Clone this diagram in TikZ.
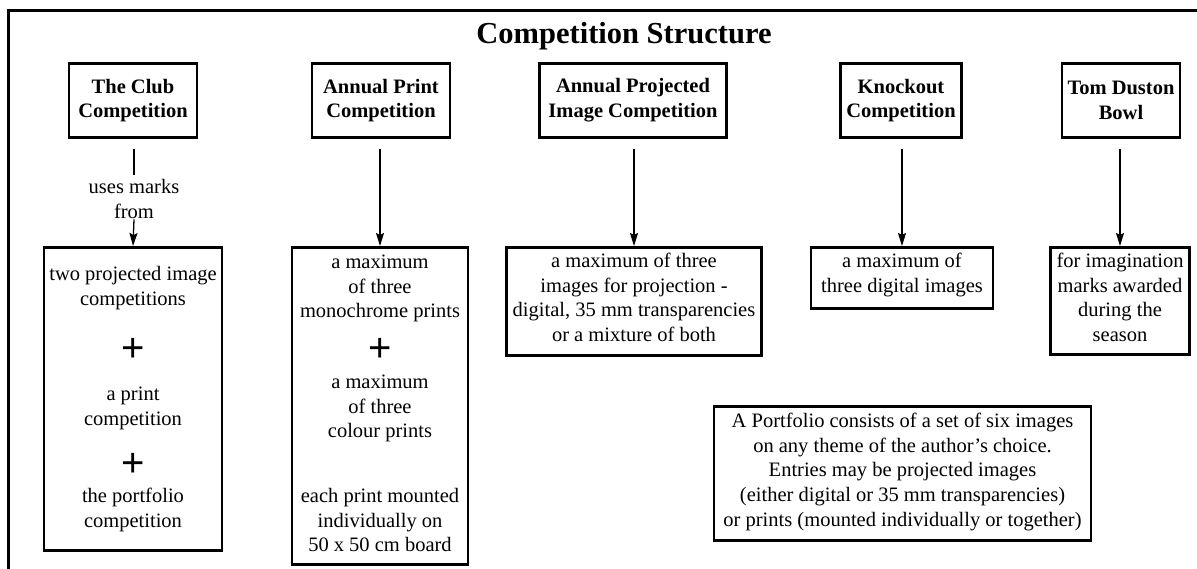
\documentclass[tikz,border=0pt]{standalone}
\usepackage{fontspec}
\setmainfont{Liberation Serif}
\newfontfamily\plusfont{Liberation Sans}
\usetikzlibrary{arrows.meta}
\newcommand\bodyfs{\fontsize{20.5}{24.8}\selectfont}
\newcommand\fl{\rule{0pt}{17.36pt}}
\begin{document}
\begin{tikzpicture}[x=1pt,y=-1pt,
  frame/.style={line width=2.8pt},
  box/.style={draw, line width=2.8pt, inner sep=0pt},
  headbox/.style={box, font=\bodyfs\bfseries, align=center, minimum height=74pt},
  lowbox/.style={box, anchor=north},
  txt/.style={font=\bodyfs, align=center, inner sep=0pt, anchor=north},
  plussign/.style={font=\plusfont\fontsize{40}{40}\selectfont, inner sep=0pt, anchor=base},
  link/.style={line width=1.3pt},
  arr/.style={link, -{Stealth[length=13pt,width=8pt,inset=2pt]}}
]
\useasboundingbox (0,0) rectangle (1197,568);
\clip (0,0) rectangle (1197,568);
\draw[frame] (1205,10.8) -- (8.5,10.8) -- (8.5,580);

% title
\node[font=\fontsize{30.5}{36}\selectfont\bfseries, inner sep=0pt, anchor=base] (title) at (624,43) {Competition Structure};

% header boxes
\node[headbox, minimum width=128pt] (h1) at (133,100.5) {The Club\\Competition};
\node[headbox, minimum width=138pt] (h2) at (381,100.5) {Annual Print\\Competition};
\node[headbox, minimum width=187pt] (h3) at (633,100.5) {Annual Projected\\Image Competition};
\node[headbox, minimum width=121pt] (h4) at (901,100.5) {Knockout\\Competition};
\node[headbox, minimum width=118pt] (h5) at (1121,100.5) {Tom Duston\\Bowl};

% lower boxes
\node[lowbox, minimum width=178pt, minimum height=303pt] (l1) at (133,246) {};
\node[lowbox, minimum width=176pt, minimum height=317pt] (l2) at (380,246) {};
\node[lowbox, minimum width=255pt, minimum height=108pt] (l3) at (634,246) {};
\node[lowbox, minimum width=182pt, minimum height=61pt] (l4) at (902,246) {};
\node[lowbox, minimum width=139pt, minimum height=107pt] (l5) at (1120,246) {};
\node[lowbox, minimum width=377pt, minimum height=134pt] (pf) at (902.5,405) {};

% box texts (north = first baseline minus 17.36pt)
\node[txt] (t1a) at (133,280-17.36) {\fl two projected image\\competitions};
\node[plussign] (p1a) at (133,347+14.3) {+};
\node[txt] (t1b) at (133,400-17.36) {\fl a print\\competition};
\node[plussign] (p1b) at (133,462+14.3) {+};
\node[txt] (t1c) at (133,502-17.36) {\fl the portfolio\\competition};

\node[txt] (t2a) at (380,268-17.36) {\fl a maximum\\of three\\monochrome prints};
\node[plussign] (p2a) at (380,347+14.3) {+};
\node[txt] (t2b) at (380,388-17.36) {\fl a maximum\\of three\\colour prints};
\node[txt] (t2c) at (380,502-17.36) {\fl each print mounted\\individually on\\50 x 50 cm board};

\node[txt] (t3) at (634,267-17.36) {\fl a maximum of three\\images for projection -\\digital, 35 mm transparencies\\or a mixture of both};
\node[txt] (t4) at (902,267-17.36) {\fl a maximum of\\three digital images};
\node[txt] (t5) at (1120,267-17.36) {\fl for imagination\\marks awarded\\during the\\season};

\node[txt] (tp) at (902.5,427-17.36) {\fl A Portfolio consists of a set of six images\\on any theme of the author’s choice.\\Entries may be projected images\\(either digital or 35 mm transparencies)\\or prints (mounted individually or together)};

% connectors
\node[txt, fill=white, inner xsep=2pt, inner ysep=1pt] (lab) at (134,193-17.36-1) {\fl uses marks\\from};
\draw[link, shorten <=10pt] (lab.north |- h1.south) -- (lab.north);
\draw[arr] (lab.south) -- (l1.north);
\draw[arr, shorten <=10pt] (l2.north |- h2.south) -- (l2.north);
\draw[arr, shorten <=10pt] (l3.north |- h3.south) -- (l3.north);
\draw[arr, shorten <=10pt] (l4.north |- h4.south) -- (l4.north);
\draw[arr, shorten <=10pt] (l5.north |- h5.south) -- (l5.north);
\end{tikzpicture}
\end{document}
